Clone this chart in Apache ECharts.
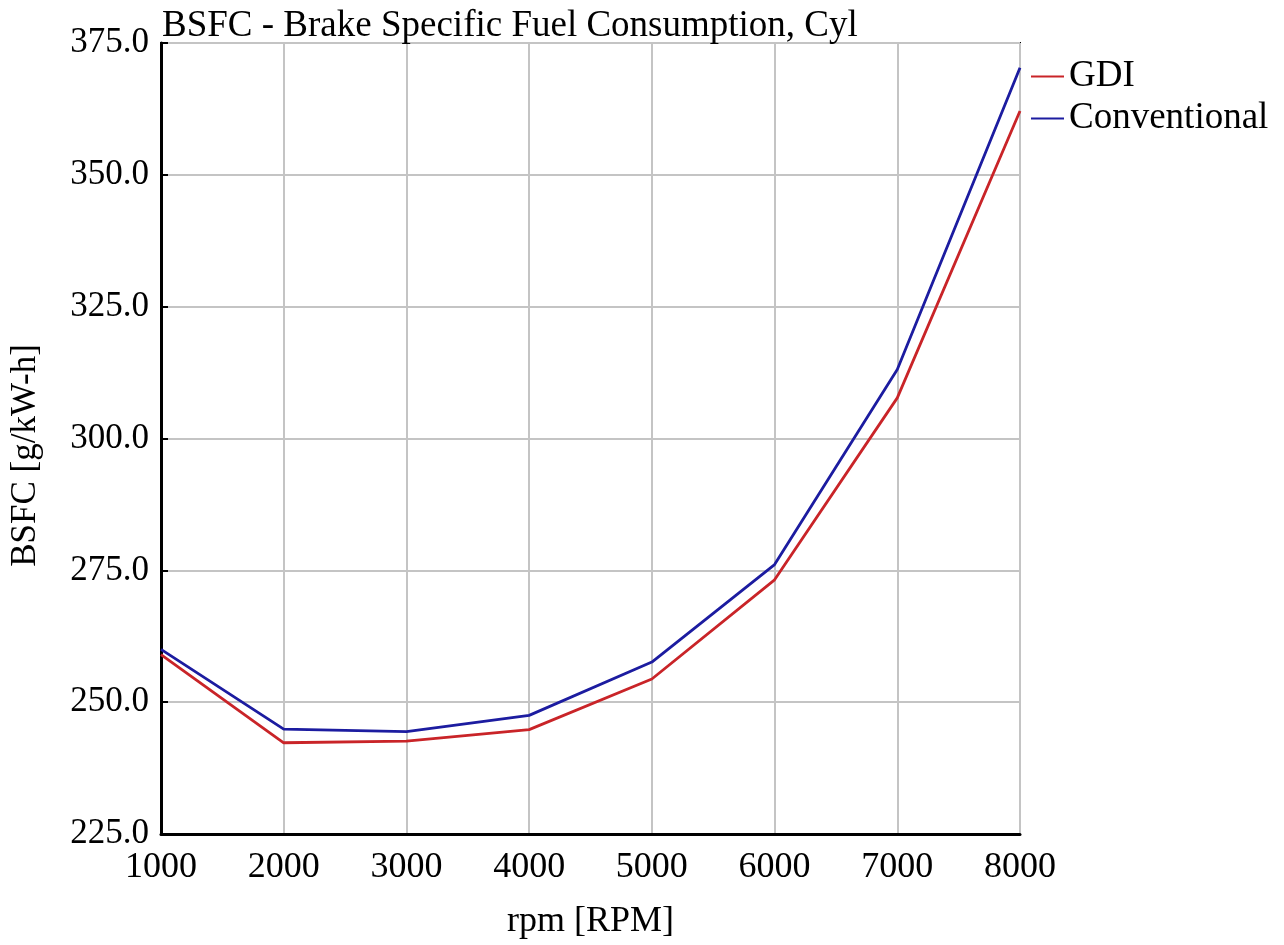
<!DOCTYPE html>
<html>
<head>
<meta charset="utf-8">
<title>BSFC</title>
<script src="https://cdn.jsdelivr.net/npm/echarts@6/dist/echarts.min.js"></script>
<style>
  html, body { margin: 0; padding: 0; background: #fff; }
  #chart { width: 1284px; height: 945px; }
</style>
</head>
<body>
<div id="chart"></div>
<script>
const FONT = '"Liberation Serif", "Times New Roman", serif'
const GDI_C = '#c92428'
const CONV_C = '#1c1ca0'

const rpm = [1000, 2000, 3000, 4000, 5000, 6000, 7000, 8000]
const gdi = [259.0, 242.3, 242.6, 244.8, 254.4, 273.2, 307.7, 362.1]
const conventional = [260.0, 244.9, 244.4, 247.5, 257.6, 276.1, 313.1, 370.3]
const yTicks = [225, 250, 275, 300, 325, 350, 375]

const pairs = (ys) => rpm.map((x, i) => [x, ys[i]])

const option = {
  animation: false,
  backgroundColor: '#fff',
  title: {
    text: 'BSFC - Brake Specific Fuel Consumption, Cyl',
    left: 157,
    top: 3,
    textStyle: { fontFamily: FONT, fontSize: 37, fontWeight: 'normal', color: '#000' },
  },
  legend: {
    orient: 'vertical',
    left: 1026,
    top: 53,
    itemWidth: 33,
    itemHeight: 2,
    itemGap: 5,
    icon: 'rect',
    textStyle: { fontFamily: FONT, fontSize: 37, color: '#000' },
    data: [
      { name: 'GDI', itemStyle: { color: GDI_C } },
      { name: 'Conventional', itemStyle: { color: CONV_C } },
    ],
  },
  grid: {
    left: 160,
    right: 264,
    top: 43,
    bottom: 110,
    show: true,
    borderColor: '#000',
    borderWidth: 2,
  },
  xAxis: {
    type: 'value',
    min: 1000,
    max: 8000,
    interval: 1000,
    name: 'rpm [RPM]',
    nameLocation: 'middle',
    nameGap: 70,
    nameTextStyle: { fontFamily: FONT, fontSize: 36, color: '#000' },
    axisLine: { lineStyle: { color: '#000', width: 3 } },
    axisTick: { show: false },
    axisLabel: {
      fontFamily: FONT, fontSize: 36, color: '#000', margin: 16,
      formatter: (v) => String(v),
    },
    splitLine: { lineStyle: { color: '#c4c4c4', width: 2 } },
  },
  yAxis: {
    type: 'value',
    min: yTicks[0],
    max: yTicks[yTicks.length - 1],
    interval: 25,
    name: 'BSFC [g/kW-h]',
    nameLocation: 'middle',
    nameGap: 118,
    nameTextStyle: { fontFamily: FONT, fontSize: 35, color: '#000', padding: [0, 34, 0, 0] },
    axisLine: { lineStyle: { color: '#000', width: 3 } },
    axisTick: { inside: true, length: 7, lineStyle: { color: '#000', width: 2 } },
    axisLabel: {
      fontFamily: FONT, fontSize: 35, color: '#000', margin: 12,
      padding: [10, 0, 0, 0],
      formatter: (v) => v.toFixed(1),
    },
    splitLine: { lineStyle: { color: '#c4c4c4', width: 2 } },
  },
  series: [
    {
      name: 'GDI',
      type: 'line',
      data: pairs(gdi),
      showSymbol: false,
      lineStyle: { color: GDI_C, width: 2.8 },
      itemStyle: { color: GDI_C },
    },
    {
      name: 'Conventional',
      type: 'line',
      data: pairs(conventional),
      showSymbol: false,
      lineStyle: { color: CONV_C, width: 2.8 },
      itemStyle: { color: CONV_C },
    },
  ],
}

const chart = echarts.init(document.getElementById('chart'))
chart.setOption(option)
</script>
</body>
</html>
